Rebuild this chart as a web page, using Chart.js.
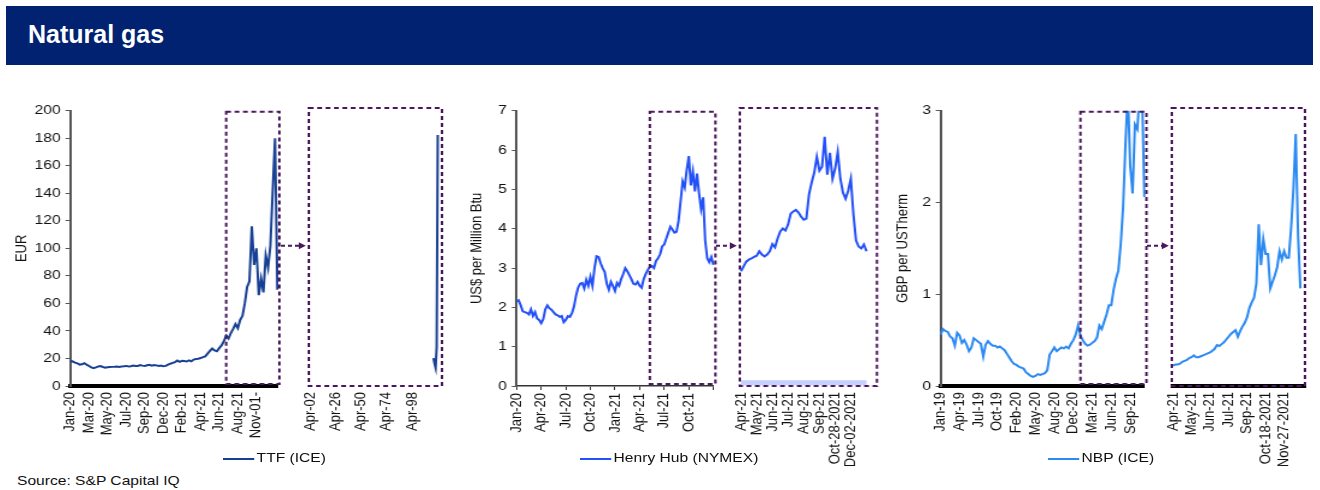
<!DOCTYPE html>
<html>
<head>
<meta charset="utf-8">
<script src="https://cdn.jsdelivr.net/npm/chart.js@4.4.0/dist/chart.umd.min.js"></script>
<style>
  html, body { margin: 0; padding: 0; background: #fff; }
  body { width: 1320px; height: 490px; position: relative; overflow: hidden; font-family: "Liberation Sans", Arial, sans-serif; }
  .header { position: absolute; left: 6px; top: 6px; width: 1307px; height: 59px; background: #002270; }
  .header span { position: absolute; left: 22px; top: 14px; color: #fff; font-weight: bold; font-size: 25px; }
  .box { position: absolute; }
  .box .inner { position: absolute; left: 0; top: 0; transform-origin: 0 0; }
  .stretch { position: absolute; transform-origin: 0 0; white-space: nowrap; font-size: 13px; color: #111; line-height: 16px; }
  .stretch i { display: inline-block; width: 26px; height: 0; border-top: 2.5px solid; vertical-align: middle; margin-right: 2px; }
  svg { position: absolute; left: 0; top: 0; pointer-events: none; }
</style>
</head>
<body>
<div class="header"><span>Natural gas</span></div>
<svg id="arrows" width="1320" height="490"></svg>

<script>
// ---- TTF (ICE), EUR ----
const ttfTicks = ['Jan-20', 'Mar-20', 'May-20', 'Jul-20', 'Sep-20', 'Dec-20', 'Feb-21', 'Apr-21', 'Jun-21', 'Aug-21', 'Nov-01-'];
const ttfValues = [
  18.4, 17.8, 17, 16.5, 15.5, 15.8, 16.6, 15.5, 14.5, 13.5,
  13.0, 13.5, 14.2, 14.5, 13.8, 13.3, 13.6, 13.8, 13.9, 14.0,
  14.2, 13.9, 14.1, 14.3, 14.6, 14.2, 14.4, 14.8, 14.5, 14.6,
  15.2, 14.8, 14.6, 15.1, 15.4, 14.8, 15.2, 15.0, 14.5, 14.8,
  14.3, 14.6, 15.5, 16.2, 16.8, 17.4, 18.5, 17.6, 18.3, 18.2,
  17.8, 18.6, 17.9, 19.2, 19.6, 19.8, 20.3, 21.0, 21.5, 23.5,
  25.5, 27.2, 25.8, 25.2, 27.5, 29.5, 32.5, 36.5, 34.5, 38.5,
  41.5, 45, 42, 48, 51, 60, 72, 76, 116, 88,
  100, 66, 78, 68, 95, 86, 102, 142, 180, 70
];
const ttfZoomTicks = ['Apr-02', 'Apr-26', 'Apr-50', 'Apr-74', 'Apr-98'];
const ttfZoomTail = [20, 16, 13, 28, 180];

// ---- Henry Hub (NYMEX), US$ per Million Btu ----
const hhTicks = ['Jan-20', 'Apr-20', 'Jul-20', 'Oct-20', 'Jan-21', 'Apr-21', 'Jul-21', 'Oct-21'];
const hhValues = [
  2.15, 2.18, 2.05, 1.9, 1.88, 1.86, 1.82, 1.95, 1.78, 1.88,
  1.72, 1.68, 1.6, 1.7, 1.95, 2.05, 1.98, 1.94, 1.88, 1.82,
  1.80, 1.76, 1.78, 1.62, 1.68, 1.78, 1.76, 1.85, 2.02, 2.3,
  2.5, 2.6, 2.62, 2.48, 2.7, 2.55, 2.78, 2.55, 3.0, 3.3,
  3.28, 3.12, 3.0, 2.9, 2.6, 2.45, 2.65, 2.55, 2.42, 2.62,
  2.55, 2.72, 2.85, 3.0, 2.92, 2.82, 2.72, 2.6, 2.58, 2.65,
  2.55, 2.5, 2.72, 2.85, 2.95, 3.03, 3.05, 3.0, 3.18, 3.25,
  3.35, 3.55, 3.6, 3.75, 3.9, 4.05, 3.98, 3.9, 3.92, 4.2,
  4.7, 5.2, 5.05, 5.5, 5.85, 5.1, 5.45, 4.95, 5.4, 4.9,
  4.5, 4.8, 3.7, 3.25, 3.15, 3.28, 3.08
];
const hhZoomTicks = ['Apr-21', 'May-21', 'Jun-21', 'Jul-21', 'Aug-21', 'Sep-21', 'Oct-28-2021', 'Dec-02-2021'];
const hhZoomValues = [
  2.88, 3.0, 3.12, 3.17, 3.2, 3.24, 3.27, 3.38, 3.3, 3.25,
  3.3, 3.38, 3.56, 3.48, 3.7, 3.88, 3.95, 3.9, 4.05, 4.32,
  4.38, 4.42, 4.35, 4.25, 4.17, 4.2, 4.8, 5.1, 5.35, 5.75,
  5.4, 5.5, 6.25, 5.3, 5.85, 5.2, 5.45, 5.87, 5.2, 4.85,
  4.7, 4.9, 5.2, 4.3, 3.65, 3.5, 3.45, 3.55, 3.38
];
const hhBandLevel = 0.08;

// ---- NBP (ICE), GBP per USTherm ----
const nbpTicks = ['Jan-19', 'Apr-19', 'Jul-19', 'Oct-19', 'Feb-20', 'May-20', 'Aug-20', 'Dec-20', 'Mar-21', 'Jun-21', 'Sep-21'];
const nbpValues = [
  0.56, 0.62, 0.60, 0.59, 0.54, 0.52, 0.44, 0.58, 0.55, 0.47,
  0.50, 0.45, 0.38, 0.42, 0.52, 0.50, 0.48, 0.46, 0.32, 0.45,
  0.49, 0.46, 0.44, 0.44, 0.42, 0.43, 0.41, 0.39, 0.35, 0.31,
  0.27, 0.24, 0.23, 0.21, 0.20, 0.19, 0.15, 0.13, 0.11, 0.10,
  0.11, 0.13, 0.12, 0.13, 0.14, 0.17, 0.34, 0.38, 0.42, 0.38,
  0.40, 0.42, 0.41, 0.43, 0.41, 0.46, 0.50, 0.56, 0.66, 0.55,
  0.50, 0.46, 0.44, 0.45, 0.47, 0.49, 0.53, 0.66, 0.62, 0.70,
  0.78, 0.88, 0.88, 1.05, 1.17, 1.26, 1.55, 1.95, 2.64, 3.2,
  2.4, 2.1, 2.85, 2.8, 3.2, 3.2, 2.06
];
const nbpZoomTicks = ['Apr-21', 'May-21', 'Jun-21', 'Jul-21', 'Sep-21', 'Oct-18-2021', 'Nov-27-2021'];
const nbpZoomValues = [
  0.22, 0.23, 0.23, 0.24, 0.26, 0.27, 0.28, 0.30, 0.31, 0.33,
  0.31, 0.31, 0.32, 0.33, 0.34, 0.35, 0.36, 0.38, 0.40, 0.44,
  0.43, 0.45, 0.47, 0.50, 0.53, 0.56, 0.58, 0.60, 0.53, 0.59,
  0.64, 0.68, 0.74, 0.84, 0.90, 0.95, 1.1, 1.74, 1.30, 1.58,
  1.42, 1.42, 1.05, 1.12, 1.19, 1.28, 1.45, 1.36, 1.45, 1.38,
  1.38, 1.7, 2.12, 2.71, 1.62, 1.05
];

const seriesNames = ['TTF (ICE)', 'Henry Hub (NYMEX)', 'NBP (ICE)'];
const seriesColors = ['#173f93', '#2350f7', '#2b8af2'];

// ---- layout ----
const SX = 1.2;              // the source picture is stretched sideways
const FRAME = '#4a165e';
const FONT = { family: "'Liberation Sans', Arial, sans-serif", size: 13 };
const PAD_TOP = 8, PAD_RIGHT = 24, PAD_LEFT_ZOOM = 10, AXIS_H = 80, PLOT_TOP = 107, PLOT_H = 279;
const TITLE_HALF = 13 * 1.2 / 2;

Chart.defaults.animation = false;
Chart.defaults.font.family = FONT.family;

const pairs = [];   // [main, zoom] per panel, for the arrows

function makeLabels(ticks, step, total) {
  const out = [];
  for (let i = 0; i < total; i++) {
    out.push(i % step === 0 && i / step < ticks.length ? ticks[i / step] : '');
  }
  return out;
}

function mount(left, width) {
  const h = PAD_TOP + PLOT_H + AXIS_H;
  const box = document.createElement('div');
  box.className = 'box';
  box.style.left = left + 'px';
  box.style.top = (PLOT_TOP - PAD_TOP) + 'px';
  box.style.width = width + 'px';
  box.style.height = h + 'px';
  const inner = document.createElement('div');
  inner.className = 'inner';
  inner.style.width = (width / SX) + 'px';
  inner.style.height = h + 'px';
  inner.style.transform = 'scaleX(' + SX + ')';
  const cv = document.createElement('canvas');
  cv.width = Math.round(width / SX);
  cv.height = h;
  inner.appendChild(cv);
  box.appendChild(inner);
  document.body.appendChild(box);
  return cv;
}

function drawArrows() {
  let s = '';
  pairs.forEach(([m, z]) => {
    if (!m || !z || !m.chart || !z.chart) return;
    const a = m.chart.chartArea, b = z.chart.chartArea;
    const x1 = m.left + a.right * SX + 4;
    const x2 = z.left + (b.left - 1) * SX - 3;
    const y = PLOT_TOP - PAD_TOP + a.top + (a.bottom - a.top) * 0.49;
    s += `<line x1="${x1}" y1="${y}" x2="${x2 - 6}" y2="${y}" stroke="${FRAME}" stroke-width="2" stroke-dasharray="4 3"/>` +
         `<polygon points="${x2 - 7},${y - 3.5} ${x2},${y} ${x2 - 7},${y + 3.5}" fill="${FRAME}"/>`;
  });
  document.getElementById('arrows').innerHTML = s;
}

// dashed purple frame: from a category index to the end (main) or round the plot (zoom)
const zoomFrame = {
  id: 'zoomFrame',
  afterDatasetsDraw(chart, args, opts) {
    const { ctx, chartArea: a, scales } = chart;
    let x1, x2, y2;
    if (opts.from !== undefined) {
      x1 = scales.x.getPixelForValue(opts.from);
      x2 = a.right + 2 / SX;
      y2 = a.bottom - 2;
    } else {
      x1 = a.left - 1;
      x2 = a.right;
      y2 = a.bottom;
    }
    ctx.save();
    ctx.strokeStyle = FRAME;
    ctx.lineWidth = 2;
    ctx.setLineDash([4, 3]);
    ctx.strokeRect(x1, a.top + 1, x2 - x1, y2 - a.top - 1);
    ctx.restore();
  },
  afterRender() { drawArrows(); }
};

function xAxis(step, opt) {
  return {
    afterFit: s => { s.height = AXIS_H; },
    afterBuildTicks: s => { s.ticks = s.ticks.filter(t => t.value % step === 0); },
    ticks: {
      autoSkip: false, minRotation: 90, maxRotation: 90, color: '#111', font: FONT,
      padding: opt.tickMarks ? 3 : 6,
      callback(v) { return this.getLabelForValue(v); }
    },
    grid: { display: !!opt.tickMarks, drawTicks: !!opt.tickMarks, drawOnChartArea: false, tickLength: 4, tickColor: '#333' },
    border: { display: opt.border !== false, color: opt.thick ? '#000' : '#333', width: opt.thick ? 4 : 1.5 }
  };
}

function mainChart(o) {
  const left = o.titleX - SX * TITLE_HALF;
  const width = o.plotRight - left + PAD_RIGHT * SX;
  const yw = (o.plotLeft - left) / SX;
  const cv = mount(left, width);
  const holder = { left };
  holder.chart = new Chart(cv, {
    type: 'line',
    data: {
      labels: makeLabels(o.ticks, o.step, o.values.length),
      datasets: [{ label: o.name, data: o.values, borderColor: o.color, borderWidth: 2, pointRadius: 0, tension: 0 }]
    },
    options: {
      responsive: true, maintainAspectRatio: false, devicePixelRatio: 1,
      layout: { padding: { top: PAD_TOP, right: PAD_RIGHT, left: 0, bottom: 0 } },
      plugins: { legend: { display: false }, tooltip: { enabled: false }, zoomFrame: { from: o.zoomFrom } },
      scales: {
        x: xAxis(o.step, o),
        y: {
          min: 0, max: o.yMax,
          afterFit: s => { s.width = yw; },
          ticks: { stepSize: o.yStep, color: '#111', font: FONT, padding: 4 },
          grid: { drawOnChartArea: false, drawTicks: true, tickLength: 4, tickColor: '#555' },
          border: { color: '#555', width: 2 },
          title: { display: true, text: o.yTitle, color: '#111', font: FONT, padding: 0 }
        }
      }
    },
    plugins: [zoomFrame]
  });
  return holder;
}

function zoomChart(o) {
  const left = o.plotLeft - PAD_LEFT_ZOOM * SX;
  const width = o.plotRight - left + PAD_RIGHT * SX;
  const cv = mount(left, width);
  const datasets = [{ data: o.values, borderColor: o.color, borderWidth: 2, pointRadius: 0, tension: 0 }];
  if (o.extra) datasets.unshift(o.extra);
  const holder = { left };
  holder.chart = new Chart(cv, {
    type: 'line',
    data: { labels: makeLabels(o.ticks, o.step, o.total), datasets },
    options: {
      responsive: true, maintainAspectRatio: false, devicePixelRatio: 1,
      layout: { padding: { top: PAD_TOP, right: PAD_RIGHT, left: PAD_LEFT_ZOOM, bottom: 0 } },
      plugins: { legend: { display: false }, tooltip: { enabled: false }, zoomFrame: {} },
      scales: {
        x: xAxis(o.step, o),
        y: { display: false, min: 0, max: o.yMax }
      }
    },
    plugins: [zoomFrame]
  });
  return holder;
}

// ---- panel 1: TTF ----
const ttfMain = mainChart({
  name: seriesNames[0], color: seriesColors[0], titleX: 22, plotLeft: 70, plotRight: 277,
  ticks: ttfTicks, step: 8, values: ttfValues, yMax: 200, yStep: 20, yTitle: 'EUR',
  thick: true, zoomFrom: 67
});
const ttfZoomTotal = 125;
const ttfZoom = zoomChart({
  color: seriesColors[0], plotLeft: 310, plotRight: 442, ticks: ttfZoomTicks, step: 24,
  total: ttfZoomTotal, yMax: 200, border: false,
  values: new Array(ttfZoomTotal - 4 - ttfZoomTail.length).fill(null).concat(ttfZoomTail)
});
pairs.push([ttfMain, ttfZoom]);

// ---- panel 2: Henry Hub ----
const hhMain = mainChart({
  name: seriesNames[1], color: seriesColors[1], titleX: 477, plotLeft: 516, plotRight: 712,
  ticks: hhTicks, step: 12, values: hhValues, yMax: 7, yStep: 1, yTitle: 'US$ per Million Btu',
  tickMarks: true, zoomFrom: 65
});
const hhZoom = zoomChart({
  color: seriesColors[1], plotLeft: 741, plotRight: 877, ticks: hhZoomTicks, step: 6,
  total: 53, yMax: 7, border: false, values: hhZoomValues,
  extra: {
    data: hhZoomValues.map((v, i) => (i === 0 || i === hhZoomValues.length - 1) ? hhBandLevel : null),
    spanGaps: true, borderColor: 'rgba(150,170,255,0.55)', borderWidth: 5, pointRadius: 0
  }
});
pairs.push([hhMain, hhZoom]);

// ---- panel 3: NBP ----
const nbpMain = mainChart({
  name: seriesNames[2], color: seriesColors[2], titleX: 903, plotLeft: 940, plotRight: 1143,
  ticks: nbpTicks, step: 8, values: nbpValues, yMax: 3, yStep: 1, yTitle: 'GBP per USTherm',
  thick: true, zoomFrom: 59
});
const nbpZoom = zoomChart({
  color: seriesColors[2], plotLeft: 1173, plotRight: 1305, ticks: nbpZoomTicks, step: 8,
  total: 58, yMax: 3, thick: true, values: nbpZoomValues
});
pairs.push([nbpMain, nbpZoom]);

drawArrows();

// ---- legends and source ----
function stretchedText(html, left, top) {
  const d = document.createElement('div');
  d.className = 'stretch';
  d.style.left = left + 'px';
  d.style.top = top + 'px';
  d.style.transform = 'scaleX(' + SX + ')';
  d.innerHTML = html;
  document.body.appendChild(d);
}
[223, 580, 1048].forEach((x, i) => {
  stretchedText(`<i style="border-color:${seriesColors[i]}"></i>${seriesNames[i]}`, x, 450);
});
stretchedText('Source: S&amp;P Capital IQ', 17, 473);
</script>
</body>
</html>
